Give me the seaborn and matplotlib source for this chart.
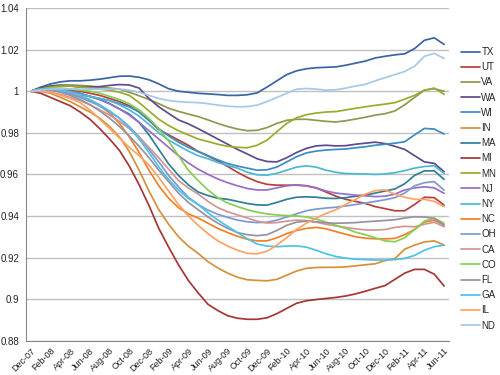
import numpy as np
import pandas as pd
import matplotlib
matplotlib.use('Agg')
import matplotlib.pyplot as plt
import seaborn as sns

# category axis, monthly Dec-07 .. Jun-11
months = ['Dec-07', 'Jan-08', 'Feb-08', 'Mar-08', 'Apr-08', 'May-08', 'Jun-08', 'Jul-08',
          'Aug-08', 'Sep-08', 'Oct-08', 'Nov-08', 'Dec-08', 'Jan-09', 'Feb-09', 'Mar-09',
          'Apr-09', 'May-09', 'Jun-09', 'Jul-09', 'Aug-09', 'Sep-09', 'Oct-09', 'Nov-09',
          'Dec-09', 'Jan-10', 'Feb-10', 'Mar-10', 'Apr-10', 'May-10', 'Jun-10', 'Jul-10',
          'Aug-10', 'Sep-10', 'Oct-10', 'Nov-10', 'Dec-10', 'Jan-11', 'Feb-11', 'Mar-11',
          'Apr-11', 'May-11', 'Jun-11']

tx = [1.000, 1.002, 1.0035, 1.0045, 1.005, 1.005, 1.0053, 1.0058, 1.0065, 1.0072, 1.0073, 1.0067, 1.0055, 1.0035, 1.0012,
      1.000, 0.9995, 0.999, 0.9987, 0.9984, 0.998, 0.998, 0.9983, 0.9992, 1.002, 1.005, 1.008, 1.0098, 1.0108, 1.0113,
      1.0115, 1.0117, 1.0125, 1.0135, 1.0145, 1.016, 1.0168, 1.0175, 1.018, 1.0205, 1.0245, 1.0257, 1.0225]
ut = [1.0, 1.0005, 1.001, 1.001, 1.0005, 1.0, 0.999, 0.998, 0.9965, 0.995, 0.993, 0.99, 0.986, 0.9815, 0.979,
      0.9765, 0.974, 0.971, 0.9688, 0.9665, 0.9638, 0.961, 0.9585, 0.9565, 0.9552, 0.9548, 0.9548, 0.9548, 0.9545, 0.9535,
      0.9515, 0.9495, 0.948, 0.947, 0.946, 0.9445, 0.9435, 0.9425, 0.9425, 0.9455, 0.949, 0.9488, 0.9452]
va = [1.0, 1.0015, 1.0025, 1.003, 1.003, 1.0028, 1.0025, 1.002, 1.0015, 1.001, 0.9995, 0.9978, 0.996, 0.994, 0.9918,
      0.9903, 0.989, 0.9878, 0.9862, 0.9845, 0.983, 0.9818, 0.981, 0.9812, 0.9825, 0.9845, 0.986, 0.9865, 0.9865, 0.986,
      0.9855, 0.9852, 0.9858, 0.9866, 0.9875, 0.9885, 0.9892, 0.9905, 0.9935, 0.997, 1.0005, 1.0012, 1.0]
wa = [1.0, 1.0015, 1.0025, 1.0028, 1.0025, 1.002, 1.002, 1.0022, 1.0028, 1.0032, 1.003, 1.0015, 0.9965, 0.9925, 0.9893,
      0.9862, 0.9843, 0.982, 0.9795, 0.977, 0.9745, 0.972, 0.9698, 0.9675, 0.9662, 0.966, 0.968, 0.9705, 0.9725, 0.9737,
      0.974, 0.9737, 0.9738, 0.9745, 0.975, 0.9755, 0.9748, 0.9735, 0.972, 0.969, 0.966, 0.9653, 0.9613]
wi = [1.0, 1.001, 1.001, 1.0005, 0.9995, 0.9985, 0.9975, 0.9965, 0.9955, 0.994, 0.9925, 0.99, 0.986, 0.982, 0.9785,
      0.9755, 0.973, 0.971, 0.969, 0.967, 0.9652, 0.964, 0.963, 0.962, 0.9622, 0.9635, 0.966, 0.9685, 0.9703, 0.9712,
      0.9717, 0.972, 0.9722, 0.9728, 0.9733, 0.974, 0.9745, 0.975, 0.9757, 0.979, 0.9821, 0.9818, 0.9794]
ind = [1.0, 1.0, 0.999, 0.997, 0.995, 0.9925, 0.990, 0.987, 0.983, 0.978, 0.971, 0.962, 0.952, 0.943, 0.936,
       0.93, 0.9255, 0.922, 0.918, 0.915, 0.9125, 0.9105, 0.9093, 0.909, 0.9088, 0.9095, 0.9115, 0.9135, 0.9148, 0.9152,
       0.9153, 0.9153, 0.9155, 0.916, 0.9165, 0.917, 0.9185, 0.9195, 0.924, 0.926, 0.9275, 0.928, 0.926]
ma = [1.0, 1.001, 1.0015, 1.001, 1.0, 0.999, 0.9975, 0.996, 0.994, 0.9915, 0.989, 0.985, 0.979, 0.972, 0.965,
      0.9595, 0.955, 0.9515, 0.9498, 0.9485, 0.948, 0.947, 0.946, 0.9453, 0.9452, 0.9465, 0.948, 0.949, 0.9492, 0.949,
      0.9485, 0.9484, 0.9488, 0.9495, 0.950, 0.951, 0.952, 0.953, 0.9555, 0.9595, 0.9617, 0.9617, 0.9576]
mi = [1.0, 0.999, 0.997, 0.995, 0.993, 0.990, 0.9865, 0.982, 0.977, 0.9715, 0.964, 0.955, 0.945, 0.934, 0.925,
      0.9165, 0.909, 0.903, 0.8975, 0.8945, 0.892, 0.8908, 0.8903, 0.8903, 0.891, 0.893, 0.8955, 0.898, 0.8992, 0.8998,
      0.9003, 0.9008, 0.9015, 0.9025, 0.9038, 0.9052, 0.9065, 0.9095, 0.9125, 0.9143, 0.9143, 0.912, 0.9063]
mn = [1.0, 1.001, 1.002, 1.0025, 1.0025, 1.002, 1.0015, 1.001, 1.0005, 0.9995, 0.998, 0.9945, 0.9905, 0.9865, 0.9835,
      0.981, 0.979, 0.977, 0.9758, 0.9745, 0.9735, 0.973, 0.9728, 0.974, 0.9765, 0.9805, 0.9845, 0.9872, 0.9887, 0.9895,
      0.99, 0.9902, 0.991, 0.9918, 0.9925, 0.9932, 0.9938, 0.9945, 0.9962, 0.998, 1.0005, 1.0015, 0.9985]
nj = [1.0, 1.001, 1.0012, 1.001, 1.0, 0.999, 0.9975, 0.996, 0.994, 0.9915, 0.9885, 0.985, 0.981, 0.977, 0.973,
      0.969, 0.9655, 0.9625, 0.96, 0.9578, 0.956, 0.9545, 0.9532, 0.9525, 0.9525, 0.9535, 0.9545, 0.955, 0.9545, 0.9535,
      0.952, 0.951, 0.9505, 0.950, 0.9497, 0.9493, 0.9495, 0.9505, 0.9525, 0.9535, 0.954, 0.9535, 0.9509]
ny = [1.0, 1.0008, 1.001, 1.0005, 0.9995, 0.9985, 0.9975, 0.9965, 0.9955, 0.9935, 0.991, 0.988, 0.984, 0.980, 0.9765,
      0.9738, 0.9712, 0.969, 0.9675, 0.9657, 0.9643, 0.963, 0.961, 0.9598, 0.9596, 0.9605, 0.962, 0.9635, 0.9641, 0.9635,
      0.962, 0.961, 0.9604, 0.9603, 0.9602, 0.96, 0.9602, 0.9608, 0.9618, 0.963, 0.9638, 0.9641, 0.9605]
nc = [1.0, 1.0005, 1.0005, 1.0, 0.999, 0.9975, 0.9955, 0.993, 0.9895, 0.9845, 0.978, 0.9705, 0.962, 0.9545, 0.9485,
      0.944, 0.941, 0.939, 0.9365, 0.934, 0.932, 0.9302, 0.9288, 0.928, 0.928, 0.9295, 0.9315, 0.933, 0.934, 0.9345,
      0.9338, 0.9325, 0.9312, 0.93, 0.9293, 0.929, 0.929, 0.9292, 0.931, 0.9335, 0.937, 0.938, 0.9356]
oh = [1.0, 1.001, 1.001, 1.0, 0.9985, 0.997, 0.995, 0.993, 0.990, 0.987, 0.983, 0.978, 0.972, 0.966, 0.9595,
      0.954, 0.949, 0.9455, 0.9428, 0.9408, 0.9393, 0.938, 0.9372, 0.9368, 0.937, 0.938, 0.9395, 0.941, 0.9425, 0.9433,
      0.9438, 0.9442, 0.9448, 0.9455, 0.9462, 0.947, 0.9478, 0.9488, 0.951, 0.9545, 0.956, 0.9565, 0.9524]
ca = [1.0, 1.0, 0.9995, 0.9985, 0.997, 0.9955, 0.9935, 0.991, 0.9885, 0.9855, 0.982, 0.978, 0.973, 0.968, 0.9625,
      0.957, 0.9535, 0.9505, 0.947, 0.944, 0.942, 0.9405, 0.939, 0.9375, 0.9366, 0.9368, 0.9375, 0.938, 0.9378, 0.937,
      0.936, 0.9352, 0.9345, 0.9338, 0.9333, 0.9332, 0.9335, 0.9345, 0.935, 0.9348, 0.936, 0.937, 0.9348]
co = [1.0, 1.001, 1.0015, 1.0015, 1.001, 1.0005, 1.0, 0.999, 0.9975, 0.996, 0.994, 0.991, 0.987, 0.982, 0.976,
      0.969, 0.962, 0.957, 0.9525, 0.9488, 0.9462, 0.9445, 0.943, 0.9418, 0.941, 0.9405, 0.9402, 0.94, 0.9395, 0.9385,
      0.937, 0.9355, 0.934, 0.9322, 0.931, 0.9295, 0.928, 0.9276, 0.9295, 0.9335, 0.9375, 0.939, 0.9365]
fl = [1.0, 1.0005, 1.0005, 0.9995, 0.998, 0.996, 0.9935, 0.9905, 0.987, 0.983, 0.9785, 0.9735, 0.968, 0.962, 0.9565,
      0.951, 0.9465, 0.943, 0.9395, 0.9365, 0.934, 0.932, 0.931, 0.9305, 0.931, 0.933, 0.9355, 0.937, 0.9375, 0.9372,
      0.9367, 0.9365, 0.9366, 0.9368, 0.9372, 0.9375, 0.9378, 0.9382, 0.939, 0.9396, 0.9395, 0.9388, 0.9356]
ga = [1.0, 1.001, 1.001, 1.0005, 0.9995, 0.998, 0.996, 0.9935, 0.9905, 0.987, 0.9825, 0.977, 0.9705, 0.9635, 0.9575,
      0.9525, 0.9485, 0.9455, 0.9415, 0.938, 0.935, 0.932, 0.929, 0.9265, 0.9255, 0.9252, 0.9255, 0.9256, 0.925, 0.9235,
      0.9218, 0.9205, 0.9197, 0.9192, 0.919, 0.9188, 0.9188, 0.919, 0.9196, 0.921, 0.9235, 0.9252, 0.926]
il = [1.0, 1.0, 0.9995, 0.998, 0.9965, 0.9945, 0.991, 0.9865, 0.982, 0.9775, 0.973, 0.969, 0.9645, 0.9585, 0.952,
      0.9455, 0.940, 0.9355, 0.9315, 0.928, 0.9255, 0.9235, 0.922, 0.9218, 0.923, 0.926, 0.9295, 0.9335, 0.9365, 0.939,
      0.9412, 0.943, 0.9455, 0.948, 0.9505, 0.9522, 0.9525, 0.9505, 0.949, 0.948, 0.948, 0.947, 0.9445]
nd = [1.0, 1.0005, 1.001, 1.0012, 1.0012, 1.001, 1.001, 1.001, 1.001, 1.001, 1.0005, 0.9995, 0.998, 0.9965, 0.9955,
      0.995, 0.9947, 0.9945, 0.994, 0.9933, 0.9928, 0.9925, 0.9926, 0.9933, 0.995, 0.997, 0.999, 1.001, 1.0013, 1.001,
      1.0005, 1.0007, 1.0015, 1.0025, 1.0033, 1.005, 1.0065, 1.008, 1.0095, 1.012, 1.0168, 1.0182, 1.0158]

states = ['TX', 'UT', 'VA', 'WA', 'WI', 'IN', 'MA', 'MI', 'MN', 'NJ',
          'NY', 'NC', 'OH', 'CA', 'CO', 'FL', 'GA', 'IL', 'ND']
series = [tx, ut, va, wa, wi, ind, ma, mi, mn, nj, ny, nc, oh, ca, co, fl, ga, il, nd]
colors = ['#3a64a2', '#b83f3c', '#8c9a50', '#5f4a8b', '#3b8bc4', '#d3923a', '#2f7f96', '#a63636', '#9caa2c',
          '#9a6dc6', '#4bb9d2', '#f2802a', '#7c9ad2', '#d49494', '#86cf52', '#9a91a0', '#4cc2ea', '#ffa263', '#a8c8e8']

yticks = [0.88, 0.9, 0.92, 0.94, 0.96, 0.98, 1.0, 1.02, 1.04]

frames = []
for st, vals in zip(states, series):
    frames.append(pd.DataFrame({'m': np.arange(len(months)), 'value': vals, 'state': st}))
df = pd.concat(frames, ignore_index=True)

sns.set_style('white')
plt.rcParams['font.family'] = ['Liberation Sans', 'DejaVu Sans']

fig = plt.figure(figsize=(5, 3.75), dpi=100)
ax = fig.add_axes([0.052, 0.0915, 0.846, 0.887])

sns.lineplot(data=df, x='m', y='value', hue='state', hue_order=states,
             palette=dict(zip(states, colors)), linewidth=1.25, errorbar=None,
             legend=False, ax=ax)

ax.set_xlim(-0.5, len(months) - 0.5)
ax.set_ylim(0.88, 1.04)
ax.set_yticks(yticks)
ax.set_yticklabels(['{:g}'.format(v) for v in yticks], fontsize=7, color='#222222')
ax.yaxis.grid(True, color='#c0c0c0', linewidth=1.0)
ax.set_axisbelow(True)

ax.set_xticks(np.arange(0, len(months), 2))
ax.set_xticklabels(months[::2], rotation=45, ha='right', va='top', rotation_mode='anchor',
                   fontsize=6.5, color='#222222')
ax.set_xticks(np.arange(-0.5, len(months), 2), minor=True)
ax.tick_params(axis='x', which='major', length=0, pad=4)
ax.tick_params(axis='x', which='minor', length=4, color='#868686', width=0.8, direction='out')
ax.tick_params(axis='y', length=3, color='#868686', width=0.8, direction='out', pad=2)
ax.set_xlabel('')
ax.set_ylabel('')

for s in ['top', 'right']:
    ax.spines[s].set_visible(False)
for s in ['left', 'bottom']:
    ax.spines[s].set_color('#868686')
    ax.spines[s].set_linewidth(0.8)

handles = ax.get_lines()[:len(states)]
fig.legend(handles, states, loc='upper left', bbox_to_anchor=(0.915, 0.885), frameon=False,
           fontsize=7, handlelength=1.9, handletextpad=0.15, labelspacing=0.535, borderaxespad=0)

fig.savefig('out.png', dpi=100)
